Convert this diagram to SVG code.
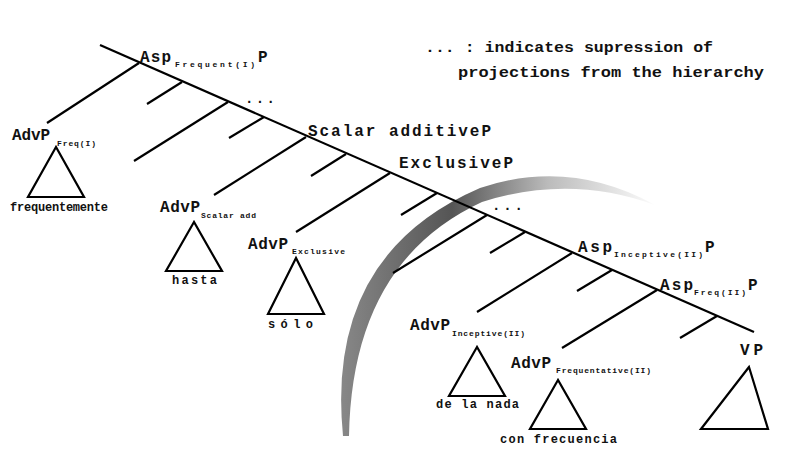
<svg xmlns="http://www.w3.org/2000/svg" width="800" height="457" viewBox="0 0 800 457">
<style>
text{font-family:"Liberation Mono","DejaVu Sans Mono",monospace;font-weight:bold;fill:#111}
.b{font-size:16px}.s{font-size:8px}.w{font-size:12px}.l{font-size:14px}
line,polygon{stroke:#000;stroke-width:2.2;fill:none}
</style>
<defs>
<linearGradient id="g" x1="340" y1="0" x2="660" y2="0" gradientUnits="userSpaceOnUse">
<stop offset="0" stop-color="#888"/><stop offset="0.35" stop-color="#555"/><stop offset="0.65" stop-color="#bbb"/><stop offset="1" stop-color="#fff"/>
</linearGradient>
</defs>
<path d="M343,436 Q325,255 480,188 Q570,158 655,205 Q570,174 482,202 Q352,262 349,436 Z" fill="url(#g)"/>
<g id="connectors">
<line x1="100" y1="45" x2="754" y2="332"/>
<line x1="139" y1="63" x2="47" y2="123"/>
<line x1="182" y1="82" x2="147" y2="104"/>
<line x1="228" y1="102" x2="134" y2="161"/>
<line x1="264" y1="117" x2="229" y2="138"/>
<line x1="306" y1="137" x2="214" y2="195"/>
<line x1="346" y1="154" x2="311" y2="176"/>
<line x1="390" y1="173" x2="296" y2="232"/>
<line x1="437" y1="193" x2="401" y2="215"/>
<line x1="487" y1="215" x2="393" y2="273"/>
<line x1="525" y1="232" x2="490" y2="253"/>
<line x1="572" y1="253" x2="477" y2="312"/>
<line x1="612" y1="270" x2="577" y2="291"/>
<line x1="657" y1="290" x2="562" y2="348"/>
<line x1="717" y1="316" x2="680" y2="338"/>
</g>
<g id="legend">
<text class="l" x="425" y="52" textLength="288" lengthAdjust="spacingAndGlyphs">... : indicates supression of</text>
<text class="l" x="458" y="77" textLength="306" lengthAdjust="spacingAndGlyphs">projections from the hierarchy</text>
<text class="l" x="245" y="103" textLength="30">...</text>
<text class="l" x="492" y="210" textLength="31">...</text>
</g>
<g id="aspFreqI"><text class="b" x="140" y="62" textLength="31">Asp</text><text class="s" x="175" y="67" textLength="80">Frequent(I)</text><text class="b" x="258" y="62">P</text></g>
<g id="scalarP"><text class="b" x="308" y="136" textLength="183">Scalar additiveP</text></g>
<g id="exclusiveP"><text class="b" x="399" y="168" textLength="114">ExclusiveP</text></g>
<g id="aspIncII"><text class="b" x="578" y="252" textLength="34">Asp</text><text class="s" x="614" y="257" textLength="89">Inceptive(II)</text><text class="b" x="705" y="252">P</text></g>
<g id="aspFreqII"><text class="b" x="660" y="290" textLength="33">Asp</text><text class="s" x="694" y="295" textLength="52">Freq(II)</text><text class="b" x="748" y="290">P</text></g>
<g id="vp"><text class="b" x="740" y="355" textLength="23">VP</text><polygon points="749,367 701,429 768,429"/></g>
<g id="advFreqI"><text class="b" x="12" y="140" textLength="38">AdvP</text><text class="s" x="57" y="146" textLength="39">Freq(I)</text><polygon points="56,147 28,197 84,197"/><text class="w" x="10" y="211" textLength="98" font-size="10">frequentemente</text></g>
<g id="advScalar"><text class="b" x="160" y="212" textLength="40">AdvP</text><text class="s" x="201" y="218" textLength="55">Scalar add</text><polygon points="194,222 166,271 222,271"/><text class="w" x="172" y="284" textLength="45">hasta</text></g>
<g id="advExcl"><text class="b" x="248" y="249" textLength="40">AdvP</text><text class="s" x="292" y="254" textLength="53">Exclusive</text><polygon points="296,258 268,314 324,314"/><text class="w" x="268" y="328" textLength="45">sólo</text></g>
<g id="advInc"><text class="b" x="410" y="330" textLength="40">AdvP</text><text class="s" x="452" y="336" textLength="73">Inceptive(II)</text><polygon points="477,347 449,396 505,396"/><text class="w" x="436" y="408" textLength="83">de la nada</text></g>
<g id="advFreqII"><text class="b" x="511" y="368" textLength="40">AdvP</text><text class="s" x="556" y="373" textLength="95">Frequentative(II)</text><polygon points="558,380 530,429 586,429"/><text class="w" x="500" y="443" textLength="117">con frecuencia</text></g>
</svg>
